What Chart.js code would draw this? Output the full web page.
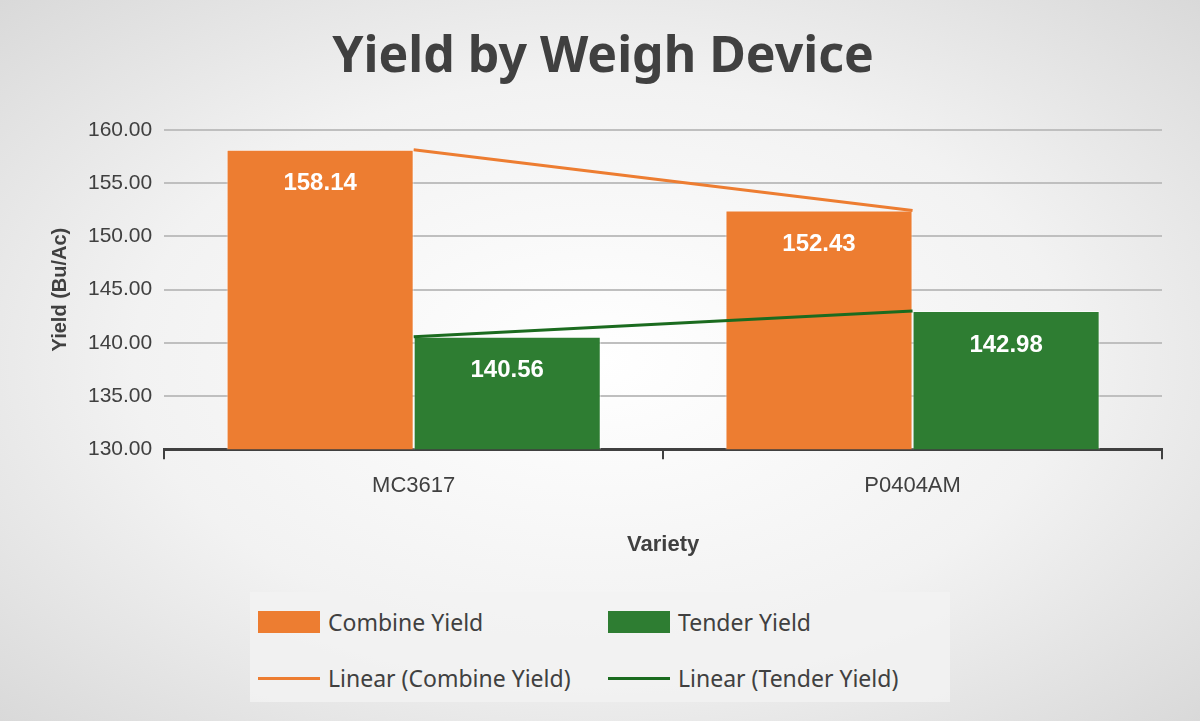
<!DOCTYPE html>
<html>
<head>
<meta charset="utf-8">
<script src="https://cdn.jsdelivr.net/npm/chart.js@4"></script>
<style>
  body { margin: 0; }
  #wrap {
    position: relative; width: 1200px; height: 721px; overflow: hidden;
    background: radial-gradient(ellipse at center, #ffffff 0%, #f2f2f2 55%, #d9d9d9 100%);
    font-family: "Noto Sans", "DejaVu Sans", sans-serif;
  }
  #box { position: absolute; left: 0; top: 0; width: 1200px; height: 580px; }
  #legend {
    position: absolute; left: 250px; top: 592px; width: 700px; height: 110px;
    background: rgba(242,242,242,0.85); color: #404040; font-size: 23px;
  }
  .item { position: absolute; display: flex; align-items: center; }
  .sw { width: 62px; height: 22px; margin-right: 8px; }
  .ln { width: 62px; height: 3px; margin-right: 8px; }
</style>
</head>
<body>
<div id="wrap">
  <div id="box"><canvas id="chart" width="1200" height="580"></canvas></div>
  <div id="legend">
    <div class="item" style="left:8px;top:14px"><div class="sw" style="background:#ED7D31"></div>Combine Yield</div>
    <div class="item" style="left:358px;top:14px"><div class="sw" style="background:#2E7D32"></div>Tender Yield</div>
    <div class="item" style="left:8px;top:70px"><div class="ln" style="background:#ED7D31"></div>Linear (Combine Yield)</div>
    <div class="item" style="left:358px;top:70px"><div class="ln" style="background:#1B6B1F"></div>Linear (Tender Yield)</div>
  </div>
</div>
<script>
// values
const varieties = ['MC3617', 'P0404AM'];
const combineYield = [158.14, 152.43];
const tenderYield = [140.56, 142.98];
const yTicks = [130, 135, 140, 145, 150, 155, 160];

Chart.defaults.font.family = '"Liberation Sans", Arial, sans-serif';

// white value labels inside the bars
const barLabels = {
  id: 'barLabels',
  afterDatasetsDraw(chart) {
    const ctx = chart.ctx;
    ctx.save();
    ctx.fillStyle = '#fff';
    ctx.font = 'bold 24px "Liberation Sans", sans-serif';
    ctx.textAlign = 'center';
    ctx.textBaseline = 'middle';
    [0, 1].forEach(i => {
      chart.getDatasetMeta(i).data.forEach((bar, j) => {
        const v = chart.data.datasets[i].data[j];
        ctx.fillText(v.toFixed(2), bar.x, bar.y + 34);
      });
    });
    ctx.restore();
  }
};

new Chart(document.getElementById('chart'), {
  data: {
    labels: varieties,
    datasets: [
      { type: 'bar', label: 'Combine Yield', data: combineYield, backgroundColor: '#ED7D31',
        borderColor: 'rgba(255,255,255,0.6)', borderWidth: 1, barPercentage: 1, categoryPercentage: 0.75, order: 2 },
      { type: 'bar', label: 'Tender Yield', data: tenderYield, backgroundColor: '#2E7D32',
        borderColor: 'rgba(255,255,255,0.6)', borderWidth: 1, barPercentage: 1, categoryPercentage: 0.75, order: 2 },
      { type: 'line', label: 'Linear (Combine Yield)', data: combineYield, borderColor: '#ED7D31',
        borderWidth: 3, pointRadius: 0, order: 1 },
      { type: 'line', label: 'Linear (Tender Yield)', data: tenderYield, borderColor: '#1B6B1F',
        borderWidth: 3, pointRadius: 0, order: 1 }
    ]
  },
  options: {
    responsive: false,
    animation: false,
    layout: { padding: { left: 44, right: 38, top: 28, bottom: 18 } },
    plugins: {
      legend: { display: false },
      tooltip: { enabled: false },
      title: { display: true, text: 'Yield by Weigh Device', color: '#404040',
        font: { size: 50, weight: 'bold', family: '"Noto Sans", sans-serif' }, padding: { bottom: 42 } }
    },
    scales: {
      x: {
        grid: { display: true, drawOnChartArea: false, tickLength: 10, color: '#404040', lineWidth: 2, offset: true },
        border: { color: '#404040', width: 3 },
        ticks: { color: '#404040', font: { size: 22 }, padding: 14 },
        title: { display: true, text: 'Variety', color: '#404040', font: { size: 22, weight: 'bold' }, padding: { top: 18 } }
      },
      y: {
        min: 130, max: 160,
        afterBuildTicks: s => { s.ticks = yTicks.map(v => ({ value: v })); },
        grid: { color: '#bfbfbf', lineWidth: 2, drawTicks: false },
        border: { display: false },
        ticks: { color: '#404040', font: { size: 21 }, padding: 12, callback: v => v.toFixed(2) },
        title: { display: true, text: 'Yield (Bu/Ac)', color: '#404040', font: { size: 20, weight: 'bold' } }
      }
    }
  },
  plugins: [barLabels]
});
</script>
</body>
</html>
